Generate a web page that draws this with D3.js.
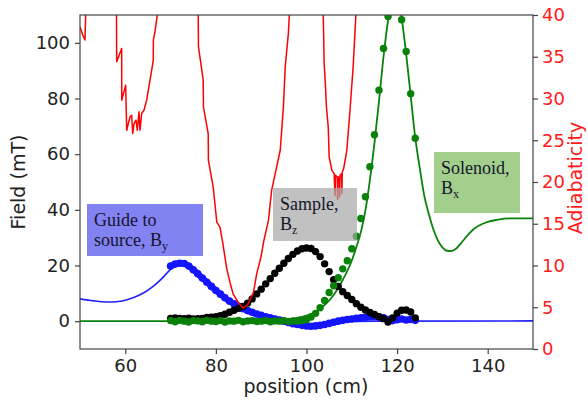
<!DOCTYPE html>
<html>
<head>
<meta charset="utf-8">
<script src="https://cdn.jsdelivr.net/npm/d3@7"></script>
<style>
  body { margin: 0; background: #fff; }
  svg { display: block; }
</style>
</head>
<body>
<svg id="chart" width="588" height="400"></svg>
<script>
// ---- axis ticks ----
const xTicks = [60, 80, 100, 120, 140];
const fieldTicks = [0, 20, 40, 60, 80, 100];
const adiaTicks = [0, 5, 10, 15, 20, 25, 30, 35, 40];

// ---- model field curves (position cm, field mT) ----
const guideLineX = [50, 53, 56, 58, 60, 62, 64, 66, 68, 70, 71, 72, 73, 74, 76, 78, 80, 82, 84, 86, 88, 90, 92, 94, 96, 98, 100, 102, 104, 106, 108, 110, 115, 150];
const guideLineY = [8.0, 7.3, 6.9, 7.0, 7.5, 8.6, 10.1, 12.3, 15.2, 18.6, 19.9, 20.8, 21.0, 20.5, 18.2, 15.0, 11.5, 8.5, 6.0, 4.0, 2.5, 1.3, 0.4, -0.4, -1.0, -1.5, -1.8, -1.7, -1.3, -0.8, -0.4, -0.1, 0.0, 0.1];

const solLineX = [50, 70, 90, 95, 98, 100, 102, 104, 106, 108, 110, 111, 112, 113, 114, 115, 116, 117, 118, 119, 119.5, 120, 121, 122, 123, 124, 125, 126, 127, 128, 129, 130, 131, 132, 133, 134, 135, 136, 137, 138, 140, 142, 145, 150];
const solLineY = [0, 0, 0.1, 0.5, 1.2, 2.0, 3.4, 5.8, 9.4, 14.8, 21.8, 26.6, 32.0, 39.8, 50.8, 64.0, 79.0, 95.0, 108.0, 116.0, 118.0, 117.0, 109.0, 96.0, 81.0, 66.0, 55.0, 45.0, 38.5, 33.0, 29.0, 26.5, 25.3, 25.2, 26.0, 27.8, 29.8, 31.6, 33.2, 34.3, 35.7, 36.4, 36.9, 36.9];

// ---- measured fields (position cm, field mT) ----
const byX = [70, 71, 72, 73, 74, 75, 76, 77, 78, 79, 80, 81, 82, 83, 84, 85, 86, 87, 88, 89, 90, 91, 92, 93, 94, 95, 96, 97, 98, 99, 100, 101, 102, 103, 104, 105, 106, 107, 108, 109, 110, 111, 112, 113, 114, 115, 116, 117, 118, 119, 120, 121, 122, 123, 124];
const byY = [19.8, 20.5, 20.8, 20.7, 19.8, 18.5, 17.0, 15.5, 14.0, 12.5, 11.0, 9.7, 8.4, 7.2, 6.2, 5.3, 4.5, 3.8, 3.2, 2.6, 2.1, 1.6, 1.2, 0.8, 0.4, 0.0, -0.5, -0.9, -1.2, -1.5, -1.7, -1.8, -1.7, -1.5, -1.2, -0.8, -0.4, 0.0, 0.3, 0.6, 0.8, 1.0, 1.2, 1.4, 1.6, 1.7, 1.6, 1.2, 0.6, 0.2, 0.5, 0.8, 0.4, 0.6, 0.3];

const bzX = [70, 71, 72, 73, 74, 75, 76, 77, 78, 79, 80, 81, 82, 83, 84, 85, 86, 87, 88, 89, 90, 91, 92, 93, 94, 95, 96, 97, 98, 99, 100, 101, 102, 103, 104, 105, 106, 107, 108, 109, 110, 111, 112, 113, 114, 115, 116, 117, 118, 119, 120, 121, 122, 123, 124];
const bzY = [1.0, 1.2, 1.0, 0.9, 1.1, 0.8, 0.9, 1.0, 1.3, 1.4, 1.6, 2.0, 2.5, 3.2, 3.9, 4.6, 5.3, 6.5, 8.0, 9.8, 11.5, 13.4, 15.3, 17.2, 19.0, 20.8, 22.5, 24.0, 25.2, 26.0, 26.3, 26.1, 25.0, 23.2, 20.6, 17.8, 14.9, 12.5, 10.6, 9.2, 7.8, 6.3, 5.0, 4.0, 3.1, 2.4, 1.6, 0.9, -0.3, 1.2, 2.9, 3.9, 4.0, 3.3, 1.2];

const bxX = [70, 71, 72, 73, 74, 75, 76, 77, 78, 79, 80, 81, 82, 83, 84, 85, 86, 87, 88, 89, 90, 91, 92, 93, 94, 95, 96, 97, 98, 99, 100, 101, 102, 103, 104, 105, 106, 107, 108, 109, 110, 111, 112, 113, 114, 115, 116, 117, 118, 119, 120, 121, 122, 123, 124];
const bxY = [0.2, -0.2, 0.3, 0.0, -0.3, 0.2, 0.1, -0.2, 0.3, 0.0, -0.1, 0.2, -0.3, 0.1, 0.0, 0.3, -0.2, 0.1, 0.2, -0.1, 0.0, 0.2, -0.2, 0.1, 0.0, 0.2, -0.1, 0.1, 0.0, 0.2, 0.5, 1.5, 2.8, 4.8, 7.4, 10.3, 12.7, 15.6, 18.8, 21.7, 26.0, 30.5, 36.9, 44.7, 55.5, 67.0, 83.0, 98.0, 109.5, 120.0, 124.0, 108.3, 96.9, 81.7, 65.7];

// ---- adiabaticity (position cm, dimensionless) ----
const adiaX = [50, 50.6, 51.1, 51.3, 51.5, 57.9, 58.1, 59.2, 59.22, 60.08, 60.31, 60.67, 61.04, 61.41, 61.63, 61.92, 62.36, 62.65, 63.02, 63.25, 63.62, 64.13, 64.72, 65.08, 65.83, 66.18, 66.2, 66.56, 67.06, 67.3, 67.5,
  75.9, 76.1, 76.15, 77.2, 77.25, 78.3, 78.35, 79.4, 80.2, 80.9, 81.6, 82.4, 83.1, 83.8, 84.9, 86.0, 87.0, 88.3, 89.0, 89.9, 90.6, 91.6, 92.3, 94.2, 94.9, 95.3, 96.0, 96.2, 96.4,
  103.5, 103.7, 103.9, 104.2, 104.4, 104.8, 105.0, 105.6, 106.1, 106.3, 106.4, 106.8, 106.85, 106.95, 107.25, 107.3, 107.4, 107.75, 107.8, 107.9, 108.2, 108.9, 109.6, 110.3, 110.9, 111.1, 150];
const adiaY = [38.6, 37.6, 37.0, 41, 60, 60, 34.4, 36.0, 29.8, 31.6, 26.2, 27.0, 27.8, 28.0, 25.8, 27.0, 27.4, 26.2, 28.4, 26.2, 28.2, 28.6, 29.8, 31.0, 33.4, 34.6, 37.0, 38.0, 40.0, 45, 60,
  60, 40, 36.2, 32.2, 29.0, 25.8, 22.6, 19.4, 15.2, 14.6, 12.4, 9.6, 8.0, 6.6, 5.6, 4.9, 5.3, 6.8, 9.0, 10.9, 13.0, 15.4, 19.0, 23.8, 29.0, 33.8, 37.8, 40.0, 60,
  60, 40, 34.2, 31.4, 29.0, 26.6, 23.0, 21.4, 21.0, 18.4, 20.8, 20.6, 17.9, 20.6, 20.6, 18.2, 20.8, 21.0, 18.6, 21.2, 21.6, 23.8, 28.6, 33.8, 40.0, 60, 60];

// ---- field labels ----
const boxes = [
  { lines: ["Guide to", "source, B"], sub: "y", x0: 87, y0: 204, x1: 203, y1: 256, fill: "#8282f2", op: 1 },
  { lines: ["Sample,", "B"], sub: "z", x0: 273, y0: 188, x1: 357, y1: 241, fill: "#a6a6a6", op: 0.7 },
  { lines: ["Solenoid,", "B"], sub: "x", x0: 434, y0: 152, x1: 520, y1: 213, fill: "#a3cf8c", op: 1 }
];

// ---- layout ----
const pL = 80, pR = 533, pT = 15, pB = 349;
const svg = d3.select("#chart");
svg.append("rect").attr("width", 588).attr("height", 400).attr("fill", "#fff");

const x = d3.scaleLinear().domain([50, 150]).range([pL, pR]);
const yF = d3.scaleLinear().domain([-10, 110]).range([pB, pT]);
const yA = d3.scaleLinear().domain([0, 40]).range([pB, pT]);

svg.append("clipPath").attr("id", "plot")
  .append("rect").attr("x", pL).attr("y", pT).attr("width", pR - pL).attr("height", pB - pT);

const g = svg.append("g").attr("clip-path", "url(#plot)");

const zip = (xs, ys) => xs.map((v, i) => [v, ys[i]]);
const smooth = d3.line().x(d => x(d[0])).y(d => yF(d[1])).curve(d3.curveMonotoneX);

// model lines
g.append("path").datum(zip(guideLineX, guideLineY)).attr("d", smooth)
  .attr("fill", "none").attr("stroke", "#1f1fff").attr("stroke-width", 1.6);
g.append("path").datum(zip(solLineX, solLineY)).attr("d", smooth)
  .attr("fill", "none").attr("stroke", "#0a820a").attr("stroke-width", 1.8);

// measured points
function dots(xs, ys, color, r) {
  g.append("g").selectAll("circle").data(zip(xs, ys)).join("circle")
    .attr("cx", d => x(d[0])).attr("cy", d => yF(d[1])).attr("r", r).attr("fill", color);
}
g.append("path").datum(zip(byX, byY)).attr("d", smooth)
  .attr("fill", "none").attr("stroke", "#1414ff").attr("stroke-width", 6);
dots(byX, byY, "#1414ff", 3.8);
dots(bzX, bzY, "#000", 3.7);
dots(bxX, bxY, "#0a820a", 3.7);

// adiabaticity on the right axis
g.append("path").datum(zip(adiaX, adiaY))
  .attr("d", d3.line().x(d => x(d[0])).y(d => yA(d[1])))
  .attr("fill", "none").attr("stroke", "#ff0000").attr("stroke-width", 1.5).attr("stroke-linejoin", "round");

// label boxes
boxes.forEach(b => {
  svg.append("rect").attr("x", b.x0).attr("y", b.y0).attr("width", b.x1 - b.x0).attr("height", b.y1 - b.y0)
    .attr("fill", b.fill).attr("fill-opacity", b.op);
  const t = svg.append("text").attr("font-family", "'Liberation Serif', 'Times New Roman', serif")
    .attr("font-size", 18).attr("fill", "#15152a");
  t.append("tspan").attr("x", b.x0 + 7).attr("y", b.y0 + 22).text(b.lines[0]);
  t.append("tspan").attr("x", b.x0 + 7).attr("y", b.y0 + 42).text(b.lines[1]);
  t.append("tspan").attr("font-size", 12).attr("dy", 4).text(b.sub);
});

// frame
svg.append("rect").attr("x", pL).attr("y", pT).attr("width", pR - pL).attr("height", pB - pT)
  .attr("fill", "none").attr("stroke", "#444").attr("stroke-width", 1.2);

const font = "'DejaVu Sans', sans-serif";
function style(sel, color) {
  sel.select(".domain").remove();
  sel.selectAll(".tick line").attr("stroke", "#444").attr("stroke-width", 1.2);
  sel.selectAll(".tick text").attr("font-family", font).attr("font-size", 18).attr("fill", color);
}
svg.append("g").attr("transform", `translate(0,${pB})`)
  .call(d3.axisBottom(x).tickValues(xTicks).tickSize(5).tickPadding(5)).call(s => style(s, "#222"));
svg.append("g").attr("transform", `translate(${pL},0)`)
  .call(d3.axisLeft(yF).tickValues(fieldTicks).tickSize(5).tickPadding(5)).call(s => style(s, "#222"));
svg.append("g").attr("transform", `translate(${pR},0)`)
  .call(d3.axisRight(yA).tickValues(adiaTicks).tickSize(5).tickPadding(4)).call(s => style(s, "#ff1a1a"));

svg.append("text").attr("x", 306).attr("y", 393).attr("text-anchor", "middle")
  .attr("font-family", font).attr("font-size", 19).attr("fill", "#222").text("position (cm)");
svg.append("text").attr("transform", "translate(25,182) rotate(-90)").attr("text-anchor", "middle")
  .attr("font-family", font).attr("font-size", 19).attr("fill", "#222").text("Field (mT)");
svg.append("text").attr("transform", "translate(582,178) rotate(-90)").attr("text-anchor", "middle")
  .attr("font-family", font).attr("font-size", 19).attr("fill", "#ff1a1a").text("Adiabaticity");
</script>
</body>
</html>
